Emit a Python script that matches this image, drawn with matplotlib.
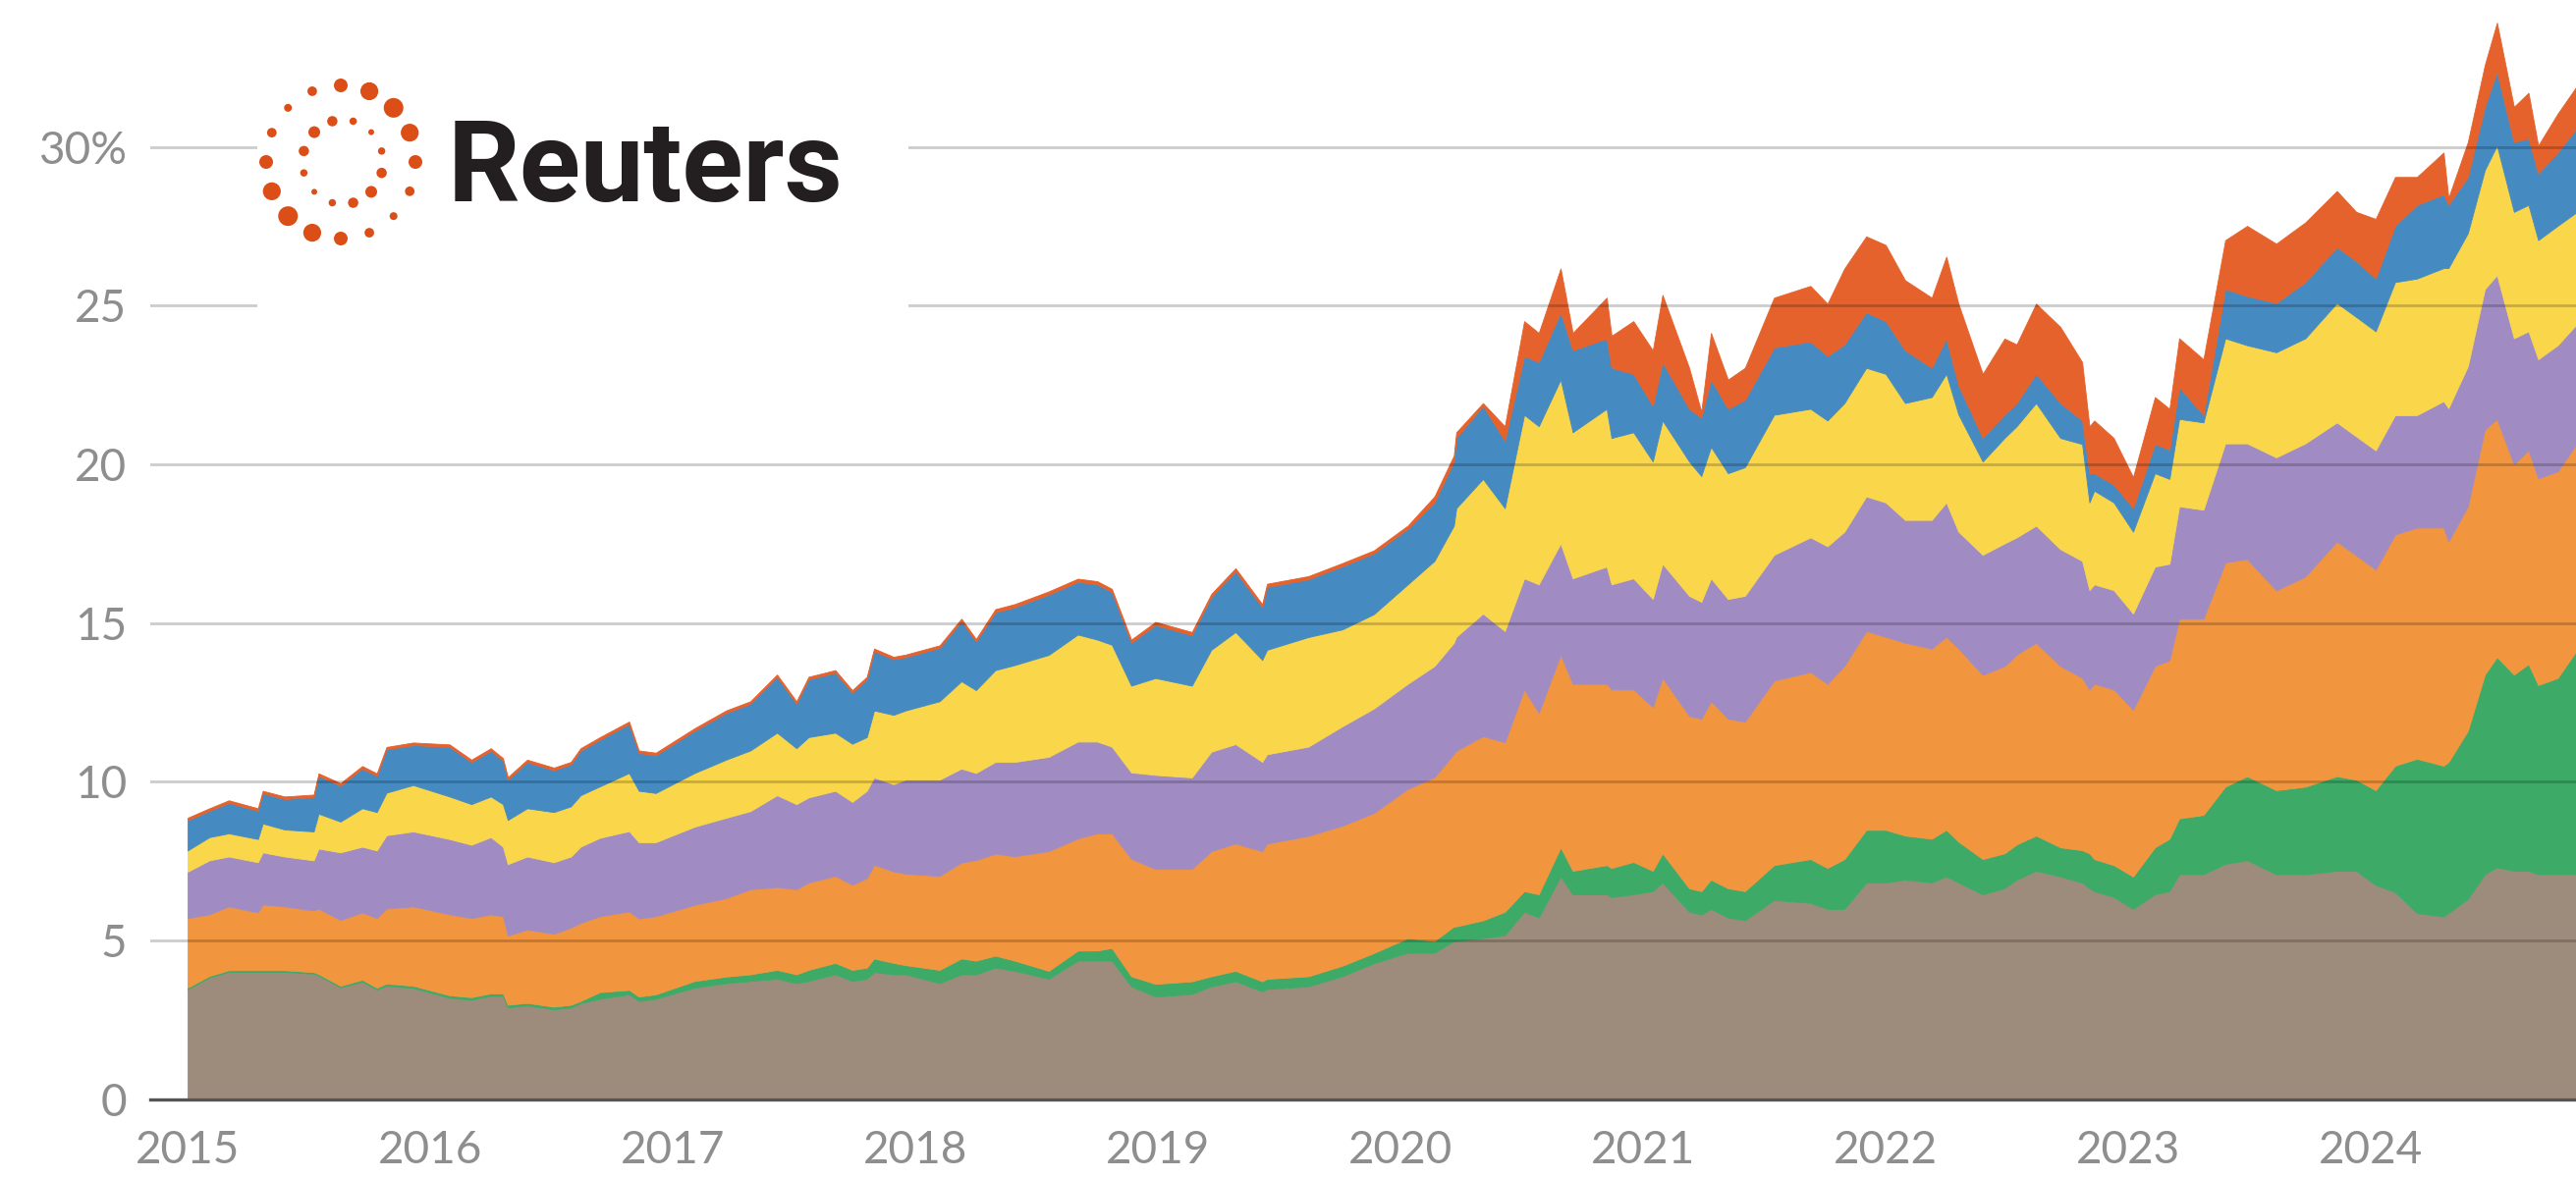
import numpy as np
import matplotlib.pyplot as plt
from matplotlib.patches import Rectangle

# fechas en años fraccionales
fechas = [2015.00, 2015.09, 2015.17, 2015.29, 2015.31, 2015.40, 2015.52, 2015.54, 2015.63, 2015.72,
          2015.78, 2015.82, 2015.93, 2016.08, 2016.17, 2016.25, 2016.30, 2016.32, 2016.40, 2016.51,
          2016.58,
          2016.62, 2016.70, 2016.82, 2016.86, 2016.93, 2017.09, 2017.22, 2017.32, 2017.43, 2017.51,
          2017.56, 2017.67, 2017.74, 2017.80, 2017.83, 2017.91, 2017.96, 2018.10, 2018.19, 2018.25,
          2018.33, 2018.41, 2018.55, 2018.67, 2018.75, 2018.81, 2018.89, 2018.99, 2019.14, 2019.22,
          2019.32, 2019.43, 2019.45, 2019.62, 2019.76, 2019.89,
          2020.03, 2020.14, 2020.22, 2020.23, 2020.34, 2020.43, 2020.51, 2020.57, 2020.66, 2020.71,
          2020.85, 2020.87, 2020.96, 2021.04, 2021.08, 2021.19, 2021.24, 2021.28, 2021.35, 2021.42,
          2021.54,
          2021.69, 2021.76, 2021.83, 2021.92, 2022.00, 2022.08, 2022.19, 2022.25, 2022.30, 2022.40,
          2022.49, 2022.54, 2022.62, 2022.72, 2022.81, 2022.84, 2022.86, 2022.94, 2023.02, 2023.11,
          2023.17,
          2023.21, 2023.31, 2023.40, 2023.49, 2023.61, 2023.73, 2023.86, 2023.94, 2024.02, 2024.10,
          2024.19, 2024.30, 2024.32, 2024.40, 2024.47, 2024.52, 2024.59, 2024.65, 2024.69, 2024.77,
          2024.85]

# niveles acumulados (tope de cada capa), de abajo hacia arriba
tope_marron = [3.47, 3.84, 4.02, 4.02, 4.02, 4.02, 3.96, 3.90, 3.53, 3.71,
               3.46, 3.58, 3.51, 3.20, 3.14, 3.26, 3.26, 2.90, 2.96, 2.84,
               2.89,
               3.03, 3.17, 3.31, 3.10, 3.17, 3.52, 3.66, 3.73, 3.80, 3.66,
               3.73, 3.94, 3.73, 3.80, 4.01, 3.94, 3.94, 3.66, 3.94, 3.94,
               4.15, 4.05, 3.80, 4.37, 4.37, 4.37, 3.56, 3.24, 3.32, 3.56,
               3.72, 3.40, 3.48, 3.56, 3.88, 4.29,
               4.62, 4.62, 4.99, 4.99, 5.08, 5.17, 5.91, 5.73, 7.02, 6.46,
               6.46, 6.37, 6.46, 6.56, 6.83, 5.91, 5.82, 6.00, 5.73, 5.64,
               6.28,
               6.19, 6.00, 6.00, 6.83, 6.83, 6.92, 6.83, 7.02, 6.83, 6.46,
               6.65, 6.92, 7.20, 7.02, 6.83, 6.65, 6.56, 6.37, 6.00, 6.46,
               6.56,
               7.09, 7.09, 7.42, 7.53, 7.09, 7.09, 7.20, 7.20, 6.75, 6.53,
               5.87, 5.76, 5.87, 6.31, 7.09, 7.31, 7.20, 7.20, 7.09, 7.09,
               7.09]
tope_verde = [3.52, 3.89, 4.07, 4.07, 4.07, 4.07, 4.01, 3.95, 3.58, 3.77,
              3.52, 3.65, 3.58, 3.28, 3.22, 3.34, 3.34, 2.98, 3.04, 2.92,
              2.98,
              3.10, 3.38, 3.45, 3.24, 3.31, 3.73, 3.87, 3.94, 4.08, 3.94,
              4.08, 4.30, 4.08, 4.15, 4.44, 4.30, 4.23, 4.08, 4.44, 4.37,
              4.53, 4.37, 4.05, 4.69, 4.69, 4.77, 3.88, 3.64, 3.72, 3.88,
              4.05, 3.72, 3.80, 3.88, 4.21, 4.61,
              5.08, 4.99, 5.45, 5.45, 5.64, 5.91, 6.56, 6.46, 7.94, 7.20,
              7.38, 7.29, 7.48, 7.20, 7.75, 6.65, 6.56, 6.92, 6.65, 6.56,
              7.38,
              7.57, 7.29, 7.57, 8.49, 8.49, 8.31, 8.21, 8.49, 8.12, 7.57,
              7.75, 8.03, 8.31, 7.94, 7.85, 7.75, 7.57, 7.38, 7.02, 7.94,
              8.21,
              8.85, 8.96, 9.85, 10.18, 9.74, 9.85, 10.18, 10.07, 9.74, 10.51,
              10.73, 10.51, 10.62, 11.61, 13.38, 13.93, 13.38, 13.71, 13.05, 13.27,
              14.15]
tope_naranja = [5.71, 5.83, 6.08, 5.89, 6.14, 6.08, 5.95, 6.01, 5.65, 5.89,
                5.71, 6.01, 6.08, 5.83, 5.71, 5.83, 5.77, 5.16, 5.35, 5.22,
                5.41,
                5.56, 5.77, 5.92, 5.70, 5.77, 6.13, 6.34, 6.62, 6.69, 6.62,
                6.83, 7.04, 6.76, 6.97, 7.39, 7.18, 7.11, 7.04, 7.46, 7.54,
                7.74, 7.66, 7.82, 8.22, 8.38, 8.38, 7.58, 7.26, 7.26, 7.82,
                8.06, 7.82, 8.06, 8.30, 8.62, 9.02,
                9.78, 10.15, 10.88, 10.98, 11.44, 11.25, 12.91, 12.17, 14.01, 13.09,
                13.09, 12.91, 12.91, 12.36, 13.28, 12.08, 11.99, 12.54, 11.99, 11.90,
                13.19,
                13.46, 13.09, 13.65, 14.75, 14.57, 14.38, 14.20, 14.57, 14.20, 13.37,
                13.65, 14.01, 14.38, 13.65, 13.28, 12.91, 13.09, 12.91, 12.27, 13.65,
                13.83,
                15.14, 15.14, 16.91, 17.02, 16.03, 16.47, 17.57, 17.13, 16.69, 17.79,
                18.01, 18.01, 17.57, 18.68, 21.10, 21.43, 20.00, 20.44, 19.56, 19.78,
                20.66]
tope_morado = [7.17, 7.53, 7.65, 7.47, 7.78, 7.65, 7.53, 7.90, 7.78, 7.96,
               7.84, 8.32, 8.44, 8.20, 8.02, 8.26, 7.96, 7.41, 7.65, 7.47,
               7.65,
               7.96, 8.24, 8.45, 8.10, 8.10, 8.59, 8.87, 9.08, 9.58, 9.30,
               9.51, 9.72, 9.37, 9.72, 10.14, 9.93, 10.07, 10.07, 10.42, 10.28,
               10.63, 10.63, 10.79, 11.27, 11.27, 11.11, 10.30, 10.22, 10.14, 10.95,
               11.19, 10.63, 10.87, 11.11, 11.75, 12.31,
               13.09, 13.65, 14.38, 14.57, 15.30, 14.75, 16.41, 16.22, 17.51, 16.41,
               16.78, 16.22, 16.41, 15.76, 16.87, 15.86, 15.67, 16.41, 15.76, 15.86,
               17.15,
               17.70, 17.42, 17.88, 18.99, 18.80, 18.25, 18.25, 18.80, 17.88, 17.15,
               17.51, 17.70, 18.07, 17.33, 16.96, 16.04, 16.22, 16.04, 15.30, 16.78,
               16.87,
               18.68, 18.57, 20.66, 20.66, 20.22, 20.66, 21.32, 20.88, 20.44, 21.55,
               21.55, 21.99, 21.77, 23.09, 25.52, 25.96, 23.97, 24.19, 23.31, 23.75,
               24.42]
tope_amarillo = [7.84, 8.26, 8.38, 8.20, 8.69, 8.50, 8.44, 9.00, 8.75, 9.17,
                 9.05, 9.66, 9.90, 9.54, 9.30, 9.54, 9.30, 8.80, 9.17, 9.05,
                 9.23,
                 9.58, 9.86, 10.28, 9.72, 9.65, 10.28, 10.70, 10.99, 11.55, 11.06,
                 11.41, 11.55, 11.20, 11.41, 12.25, 12.11, 12.25, 12.54, 13.17, 12.89,
                 13.52, 13.68, 14.00, 14.64, 14.48, 14.32, 13.03, 13.27, 13.03, 14.16,
                 14.72, 13.84, 14.16, 14.56, 14.80, 15.28,
                 16.22, 16.96, 18.07, 18.62, 19.54, 18.62, 21.56, 21.20, 22.67, 21.01,
                 21.75, 20.83, 21.01, 20.09, 21.38, 20.09, 19.63, 20.55, 19.72, 19.91,
                 21.56,
                 21.75, 21.38, 21.93, 23.04, 22.85, 21.93, 22.12, 22.85, 21.57, 20.09,
                 20.83, 21.20, 21.93, 20.83, 20.64, 18.80, 19.17, 18.80, 17.88, 19.72,
                 19.54,
                 21.43, 21.32, 23.97, 23.75, 23.53, 23.97, 25.08, 24.64, 24.19, 25.74,
                 25.85, 26.18, 26.18, 27.28, 29.27, 30.04, 27.95, 28.17, 27.06, 27.51,
                 27.95]
tope_azul = [8.79, 9.09, 9.34, 9.09, 9.64, 9.46, 9.52, 10.19, 9.88, 10.42,
             10.19, 11.02, 11.16, 11.10, 10.62, 10.98, 10.67, 10.07, 10.62, 10.37,
             10.55,
             10.98, 11.33, 11.82, 10.91, 10.84, 11.61, 12.17, 12.46, 13.30, 12.46,
             13.23, 13.44, 12.81, 13.23, 14.12, 13.86, 13.93, 14.22, 15.06, 14.42,
             15.34, 15.50, 15.90, 16.30, 16.22, 15.98, 14.38, 14.94, 14.62, 15.82,
             16.63, 15.50, 16.14, 16.38, 16.79, 17.19,
             17.97, 18.80, 20.09, 20.83, 21.84, 20.74, 23.41, 23.22, 24.79, 23.59,
             23.96, 23.04, 22.85, 21.84, 23.22, 21.75, 21.47, 22.67, 21.75, 22.03,
             23.68,
             23.87, 23.41, 23.78, 24.79, 24.51, 23.59, 23.04, 23.96, 22.49, 20.83,
             21.57, 21.93, 22.85, 21.93, 21.38, 19.72, 19.72, 19.36, 18.62, 20.64,
             20.46,
             22.43, 21.55, 25.52, 25.30, 25.08, 25.74, 26.84, 26.40, 25.85, 27.51,
             28.17, 28.50, 28.17, 29.05, 31.26, 32.36, 30.15, 30.26, 29.16, 29.82,
             30.60]
tope_rojo = [8.87, 9.17, 9.42, 9.17, 9.72, 9.54, 9.60, 10.27, 9.96, 10.50,
             10.27, 11.10, 11.24, 11.18, 10.70, 11.06, 10.75, 10.15, 10.70, 10.45,
             10.63,
             11.06, 11.41, 11.90, 10.99, 10.92, 11.69, 12.25, 12.54, 13.38, 12.54,
             13.31, 13.52, 12.89, 13.31, 14.20, 13.94, 14.01, 14.30, 15.14, 14.50,
             15.44, 15.60, 16.00, 16.40, 16.32, 16.08, 14.48, 15.04, 14.72, 15.92,
             16.73, 15.60, 16.24, 16.48, 16.89, 17.29,
             18.07, 18.99, 20.28, 21.01, 21.93, 21.20, 24.51, 24.14, 26.17, 24.14,
             25.25, 24.05, 24.51, 23.59, 25.34, 23.04, 21.66, 24.14, 22.67, 23.04,
             25.25,
             25.62, 25.06, 26.17, 27.18, 26.91, 25.80, 25.25, 26.54, 25.06, 22.85,
             23.96, 23.78, 25.06, 24.33, 23.22, 21.20, 21.38, 20.83, 19.60, 22.12,
             21.75,
             23.97, 23.31, 27.06, 27.51, 26.95, 27.62, 28.61, 27.95, 27.73, 29.05,
             29.05, 29.82, 28.39, 30.15, 32.58, 33.91, 31.26, 31.70, 30.04, 31.04,
             31.92]

colores = ['#9d8c7c', '#3daa68', '#f2953f', '#a08cc3', '#f9d64a', '#458bc2', '#e5622c']
anios = list(range(2015, 2025))
etiquetas_y = ['0', '5', '10', '15', '20', '25', '30%']

plt.rcParams['font.family'] = ['Lato', 'DejaVu Sans']

fig = plt.figure(figsize=(26.23, 12), dpi=100)
ax = fig.add_axes([0.0583, 0.0667, 0.9417, 0.93])

niveles = [np.zeros(len(fechas)), tope_marron, tope_verde, tope_naranja,
           tope_morado, tope_amarillo, tope_azul, tope_rojo]
for i in range(7):
    ax.fill_between(fechas, niveles[i], niveles[i + 1], color=colores[i],
                    lw=0.6, edgecolor=colores[i], zorder=1)

ax.set_xlim(2014.846, 2024.846)
ax.set_ylim(0, 34.5)
ax.set_yticks(range(0, 31, 5))
ax.set_yticklabels(etiquetas_y)
ax.set_xticks(anios)
ax.set_xticklabels([str(a) for a in anios])
ax.tick_params(axis='both', length=0, labelsize=33, colors='#8e8e8e')
ax.tick_params(axis='y', pad=17)
ax.tick_params(axis='x', pad=22)

ax.grid(axis='y', color='black', alpha=0.2, lw=2)
ax.grid(axis='x', visible=False)
ax.set_axisbelow(False)
for lado in ['left', 'right', 'top']:
    ax.spines[lado].set_visible(False)
ax.spines['bottom'].set_color('#555555')
ax.spines['bottom'].set_linewidth(2.4)
ax.spines['bottom'].set_zorder(3)

# logo de Reuters (en pixeles de la figura)
ov = fig.add_axes([0, 0, 1, 1], zorder=5)
ov.set_xlim(0, 2623)
ov.set_ylim(1200, 0)
ov.axis('off')
ov.add_patch(Rectangle((262, 0), 663, 335, facecolor='white', edgecolor='none'))

ang = np.deg2rad(np.arange(16) * 22.5)
diam = 14 + 6 * np.cos(2 * (ang - np.pi / 4))
ov.scatter(347 + 76 * np.cos(ang), 165 - 78 * np.sin(ang), s=(diam * 0.72) ** 2,
           color='#dc4e18', lw=0)
ang_i = np.deg2rad(15 + np.arange(12) * 30)
diam_i = 9 + 3 * np.cos(2 * (ang_i - 3 * np.pi / 4))
ov.scatter(349 + 41 * np.cos(ang_i), 165 - 43 * np.sin(ang_i), s=(diam_i * 0.72) ** 2,
           color='#dc4e18', lw=0)
ov.text(456, 205, 'Reuters', fontsize=83, fontweight='bold', family=['Roboto', 'DejaVu Sans'],
        color='#231f20', ha='left', va='baseline')

fig.savefig('out.png', dpi=100)
